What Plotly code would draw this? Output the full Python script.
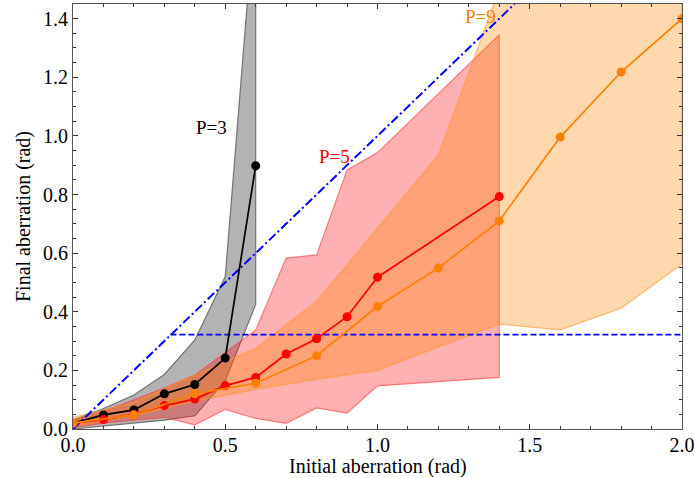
import plotly.graph_objects as go

# ---- data ----
x3 = [0.0, 0.1, 0.2, 0.3, 0.4, 0.5, 0.6]
y3 = [0.02, 0.048, 0.065, 0.12, 0.152, 0.242, 0.898]
lo3 = [0.0, 0.012, 0.02, 0.03, 0.045, 0.165, 0.425]
hi3 = [0.03, 0.07, 0.116, 0.186, 0.304, 0.52, 1.81]

x5 = [0.0, 0.1, 0.2, 0.3, 0.4, 0.5, 0.6, 0.7, 0.8, 0.9, 1.0, 1.4]
y5 = [0.02, 0.032, 0.05, 0.08, 0.102, 0.148, 0.176, 0.256, 0.308, 0.383, 0.518, 0.793]
lo5 = [0.005, 0.02, 0.03, 0.04, 0.014, 0.067, 0.036, 0.019, 0.072, 0.054, 0.147, 0.176]
hi5 = [0.03, 0.06, 0.1, 0.14, 0.184, 0.26, 0.338, 0.583, 0.594, 0.884, 0.943, 1.345]

x9 = [0.0, 0.2, 0.4, 0.6, 0.8, 1.0, 1.2, 1.4, 1.6, 1.8, 2.0]
y9 = [0.02, 0.048, 0.12, 0.156, 0.25, 0.418, 0.549, 0.71, 0.996, 1.218, 1.4]
lo9 = [0.01, 0.045, 0.095, 0.135, 0.17, 0.2, 0.28, 0.358, 0.338, 0.412, 0.563]
hi9 = [0.04, 0.09, 0.184, 0.275, 0.435, 0.685, 0.935, 1.5, 2.0, 2.3, 2.6]

ident_x = [0.0, 1.45]
thresh_x = [0.32, 2.0]
thresh_y = 0.322

labels = [("P=3", 0.455, 1.028, "black"),
          ("P=5", 0.86, 0.929, "red"),
          ("P=9", 1.337, 1.407, "rgb(255,128,0)")]

x_title = "Initial aberration (rad)"
y_title = "Final aberration (rad)"

# ---- figure ----
fig = go.Figure()

def band(x, lo, hi, fill, line):
    fig.add_trace(go.Scatter(
        x=list(x) + list(x)[::-1], y=list(hi) + list(lo)[::-1],
        fill="toself", fillcolor=fill, mode="lines",
        line=dict(color=line, width=1.2), hoverinfo="skip", showlegend=False))

band(x3, lo3, hi3, "rgba(110,110,110,0.52)", "rgba(90,90,90,0.8)")
band(x5, lo5, hi5, "rgba(255,0,0,0.31)", "rgba(255,60,60,0.6)")
band(x9, lo9, hi9, "rgba(255,135,0,0.32)", "rgba(255,150,40,0.6)")

fig.add_trace(go.Scatter(x=ident_x, y=ident_x, mode="lines",
                         line=dict(color="blue", width=2, dash="9px,3px,2px,3px"),
                         showlegend=False))
fig.add_trace(go.Scatter(x=thresh_x, y=[thresh_y, thresh_y], mode="lines",
                         line=dict(color="blue", width=1.8, dash="6px,3px"),
                         showlegend=False))

for x, y, c in [(x3, y3, "black"), (x5, y5, "red"), (x9, y9, "rgb(255,128,0)")]:
    fig.add_trace(go.Scatter(x=x, y=y, mode="lines+markers",
                             line=dict(color=c, width=1.7),
                             marker=dict(color=c, size=9),
                             showlegend=False, cliponaxis=True))

for t, ax, ay, c in labels:
    fig.add_annotation(x=ax, y=ay, text=t, showarrow=False,
                       font=dict(family="Liberation Serif", size=19, color=c))

fig.add_annotation(x=0.5, y=0, xref="paper", yref="paper", yanchor="top",
                   yshift=-24, text=x_title, showarrow=False,
                   font=dict(family="Liberation Serif", size=20, color="black"))

axis_common = dict(showline=True, linecolor="#555", linewidth=1.2, mirror="ticks",
                   ticks="inside", ticklen=5, tickwidth=1, tickcolor="#333",
                   showgrid=False, zeroline=False, ticklabeloverflow="allow",
                   automargin=False,
                   tickfont=dict(family="Liberation Serif", size=20, color="black"),
                   title_font=dict(family="Liberation Serif", size=20, color="black"))

fig.update_xaxes(range=[0, 2.0], dtick=0.5, tickformat=".1f", ticklabelstandoff=-2,
                 minor=dict(dtick=0.1, ticks="inside", ticklen=3, tickcolor="#333"),
                 **axis_common)
fig.update_yaxes(range=[0, 1.45], dtick=0.2, tickformat=".1f",
                 minor=dict(dtick=0.05, ticks="inside", ticklen=3, tickcolor="#333"),
                 title_text=y_title, title_standoff=6, **axis_common)

fig.update_layout(width=694, height=478, margin=dict(l=73, r=12, t=4, b=49),
                  plot_bgcolor="white", paper_bgcolor="white")

fig.write_html("out.html")
